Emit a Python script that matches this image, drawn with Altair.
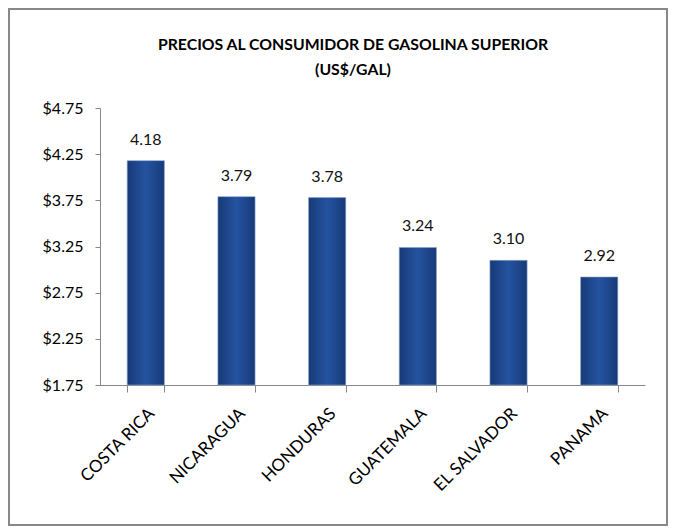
import altair as alt
import pandas as pd

countries = ["COSTA RICA", "NICARAGUA", "HONDURAS", "GUATEMALA", "EL SALVADOR", "PANAMA"]
prices = [4.18, 3.79, 3.78, 3.24, 3.10, 2.92]
y_ticks = [1.75, 2.25, 2.75, 3.25, 3.75, 4.25, 4.75]
title_line1 = "PRECIOS AL CONSUMIDOR DE GASOLINA SUPERIOR"
title_line2 = "(US$/GAL)"

df = pd.DataFrame({"country": countries, "price": prices})
FONT = "Lato"

x_enc = alt.X("country:N", sort=countries, title=None,
              scale=alt.Scale(paddingInner=0.59, paddingOuter=0.3),
              axis=alt.Axis(labelAngle=-45, labelFontSize=17, labelFont=FONT,
                            labelColor="#000000", tickBand="extent", tickSize=7,
                            domainColor="#888888", tickColor="#888888", labelPadding=13))
y_enc = alt.Y("price:Q", title=None,
              scale=alt.Scale(domain=[1.75, 4.75], nice=False, zero=False),
              axis=alt.Axis(values=y_ticks, format="$.2f", labelFontSize=16,
                            labelFont=FONT, labelColor="#000000", tickSize=5,
                            grid=False, domainColor="#888888", tickColor="#888888",
                            labelPadding=12))

bars = alt.Chart(df).mark_bar(
    color=alt.LinearGradient(
        gradient="linear", x1=0, x2=1, y1=0, y2=0,
        stops=[alt.GradientStop(color="#173a78", offset=0),
               alt.GradientStop(color="#2553a0", offset=0.5),
               alt.GradientStop(color="#173a78", offset=1)]),
    stroke="#8aa4cc", strokeWidth=0.6,
).encode(x=x_enc, y=y_enc, y2=alt.datum(1.75))

labels = alt.Chart(df).mark_text(
    dy=-21, fontSize=16, font=FONT, color="#111111", baseline="middle"
).encode(x=alt.X("country:N", sort=countries), y="price:Q",
         text=alt.Text("price:Q", format=".2f"))

border = alt.Chart(df).mark_rect(
    fill=None, stroke="#888888", strokeWidth=2, clip=False
).encode(x=alt.value(-91), x2=alt.value(567), y=alt.value(-99), y2=alt.value(417))

t1 = alt.Chart(pd.DataFrame({"t": [title_line1]})).mark_text(
    fontSize=15.8, font=FONT, fontWeight="bold", color="#000000", baseline="middle"
).encode(x=alt.value(253), y=alt.value(-63), text="t:N")
t2 = alt.Chart(pd.DataFrame({"t": [title_line2]})).mark_text(
    fontSize=15.8, font=FONT, fontWeight="bold", color="#000000", baseline="middle"
).encode(x=alt.value(253), y=alt.value(-38), text="t:N")

chart = alt.layer(border, bars, labels, t1, t2).properties(
    width=545, height=277,
    padding={"left": 92, "top": 100, "right": 24, "bottom": 142},
    autosize=alt.AutoSizeParams(type="none"),
    view=alt.ViewBackground(strokeWidth=0, strokeOpacity=0),
).configure_view(strokeWidth=0, strokeOpacity=0).configure(background="white")

chart.save("out.html", embed_options={"renderer": "svg", "actions": False})
